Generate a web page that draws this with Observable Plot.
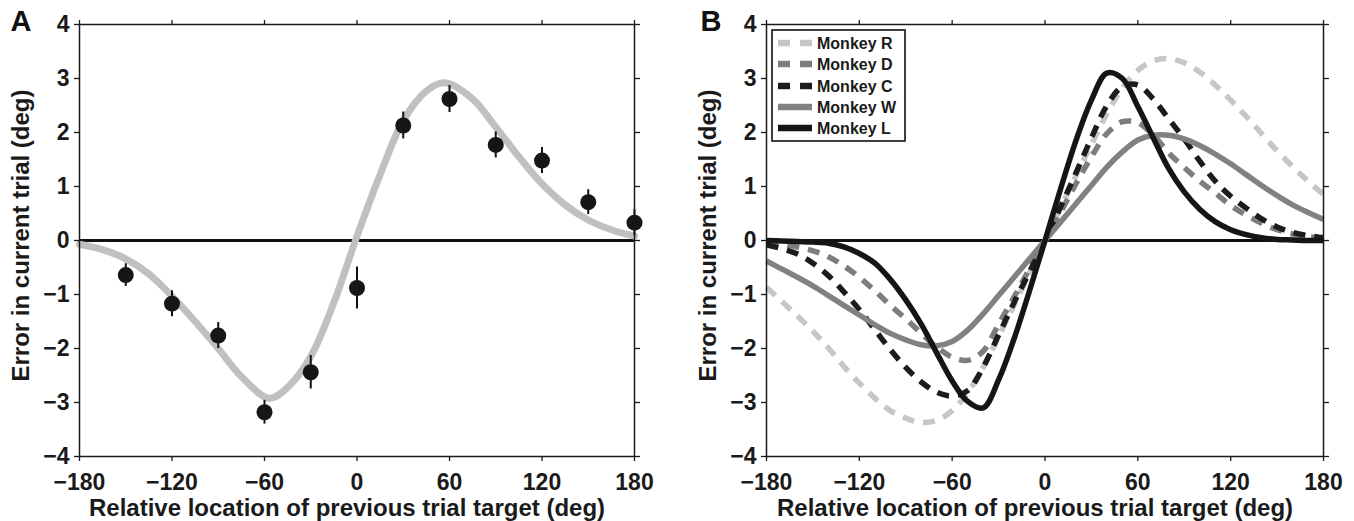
<!DOCTYPE html>
<html><head><meta charset="utf-8">
<script src="https://cdn.jsdelivr.net/npm/d3@7"></script>
<script src="https://cdn.jsdelivr.net/npm/@observablehq/plot@0.6"></script>
<style>
html,body{margin:0;padding:0;background:#fff;}
#wrap{position:relative;width:1354px;height:521px;display:flex;overflow:hidden;}
#wrap svg{display:block;}
#legend{position:absolute;left:771px;top:29px;}
</style></head><body><div id="wrap"></div>
<script>
// ---------- tick labels / titles ----------
const xTicks = [-180, -120, -60, 0, 60, 120, 180];
const yTicks = [-4, -3, -2, -1, 0, 1, 2, 3, 4];
const xTitle = "Relative location of previous trial target (deg)";
const yTitle = "Error in current trial (deg)";
const panelLetters = ["A", "B"];

// ---------- Panel A: binned data (mean ± s.e.) ----------
const aX   = [-150, -120, -90, -60, -30, 0, 30, 60, 90, 120, 150, 180];
const aY   = [-0.64, -1.17, -1.76, -3.18, -2.44, -0.88, 2.13, 2.62, 1.77, 1.48, 0.71, 0.33];
const aErr = [0.21, 0.24, 0.24, 0.22, 0.31, 0.39, 0.25, 0.25, 0.24, 0.24, 0.23, 0.24];

// ---------- Panel A: fitted curve ----------
const fitX = [-180, -165, -150, -135, -120, -105, -90, -75, -57, -45, -30, -15, 0, 15, 30, 45, 57, 75, 90, 105, 120, 135, 150, 165, 180];
const fitY = [-0.07, -0.17, -0.34, -0.62, -1.03, -1.5, -2.0, -2.52, -2.92, -2.72, -2.15, -1.15, 0.08, 1.22, 2.22, 2.77, 2.92, 2.62, 2.1, 1.55, 1.05, 0.66, 0.38, 0.2, 0.08];

// ---------- Panel B: per-monkey fitted curves ----------
const bX = [-180, -170, -160, -150, -140, -130, -120, -110, -100, -90, -80, -70, -60, -50, -40, -30, -20, -10, 0,
            10, 20, 30, 40, 50, 60, 70, 80, 90, 100, 110, 120, 130, 140, 150, 160, 170, 180];
const monkeys = ["Monkey R", "Monkey D", "Monkey C", "Monkey W", "Monkey L"];
const monkeyR = [-0.87, -1.13, -1.40, -1.68, -1.99, -2.33, -2.64, -2.92, -3.15, -3.29, -3.37, -3.33, -3.15, -2.82, -2.35, -1.78, -1.2, -0.6, 0,
                 0.6, 1.2, 1.78, 2.35, 2.82, 3.15, 3.33, 3.37, 3.29, 3.12, 2.88, 2.6, 2.3, 1.98, 1.66, 1.37, 1.1, 0.85];
const monkeyD = [-0.05, -0.07, -0.12, -0.19, -0.3, -0.47, -0.68, -0.93, -1.2, -1.45, -1.72, -1.97, -2.16, -2.22, -2.05, -1.55, -1.05, -0.52, 0,
                 0.52, 1.05, 1.55, 1.98, 2.2, 2.18, 1.95, 1.62, 1.35, 1.1, 0.88, 0.65, 0.47, 0.32, 0.2, 0.12, 0.07, 0.04];
const monkeyC = [-0.08, -0.15, -0.25, -0.42, -0.65, -0.95, -1.28, -1.65, -2.02, -2.35, -2.62, -2.81, -2.88, -2.78, -2.35, -1.75, -1.15, -0.58, 0,
                 0.62, 1.25, 1.9, 2.5, 2.85, 2.88, 2.62, 2.25, 1.88, 1.47, 1.1, 0.82, 0.6, 0.4, 0.25, 0.15, 0.09, 0.05];
const monkeyW = [-0.38, -0.53, -0.68, -0.84, -1.02, -1.2, -1.38, -1.56, -1.72, -1.84, -1.93, -1.95, -1.87, -1.66, -1.36, -1.02, -0.68, -0.34, 0,
                 0.34, 0.68, 1.02, 1.36, 1.64, 1.86, 1.95, 1.95, 1.88, 1.76, 1.6, 1.42, 1.22, 1.02, 0.83, 0.66, 0.52, 0.39];
const monkeyL = [0.0, -0.01, -0.02, -0.03, -0.05, -0.12, -0.24, -0.42, -0.72, -1.1, -1.55, -2.08, -2.6, -2.98, -3.1, -2.58, -1.82, -0.93, 0,
                 0.95, 1.85, 2.6, 3.1, 3.0, 2.48, 1.9, 1.33, 0.9, 0.58, 0.35, 0.2, 0.11, 0.05, 0.02, 0.01, 0.0, 0.0];

// ---------- styles ----------
const monkeyColor = ["#c6c6c6", "#7d7d7d", "#1c1c1c", "#818181", "#151515"];
const monkeyDash  = ["12,9", "12,9", "12,9", null, null];
const font = "'Liberation Sans', Arial, Helvetica, sans-serif";

// ---------- build tables ----------
const aPoints = aX.map((x, i) => ({x, y: aY[i], lo: aY[i] - aErr[i], hi: aY[i] + aErr[i]}));
const aFit = fitX.map((x, i) => ({x, y: fitY[i]}));
const bSeries = [monkeyR, monkeyD, monkeyC, monkeyW, monkeyL].map((vals, k) =>
  bX.map((x, i) => ({x, y: vals[i], m: monkeys[k]})));

function panel(letter, ml, mr, marks, letterDx) {
  return Plot.plot({
    width: 677, height: 521,
    marginLeft: ml, marginRight: mr, marginTop: 24, marginBottom: 65,
    x: {domain: [-180, 180]},
    y: {domain: [-4, 4]},
    style: {fontFamily: font, fontSize: "23px", fontWeight: "bold", color: "#1a1a1a", background: "#fff", overflow: "visible"},
    marks: [
      Plot.ruleY([0], {stroke: "#111", strokeWidth: 3}),
      ...marks,
      Plot.frame({stroke: "#1a1a1a", strokeWidth: 1.5}),
      Plot.axisX({anchor: "bottom", ticks: xTicks, tickSize: 5, tickPadding: 12, label: null, strokeWidth: 1.3}),
      Plot.axisX({anchor: "top", ticks: xTicks, tickSize: 5, tickFormat: () => "", label: null, strokeWidth: 1.3}),
      Plot.axisY({anchor: "left", ticks: yTicks, tickSize: 5, tickPadding: 5, label: null, strokeWidth: 1.3}),
      Plot.axisY({anchor: "right", ticks: yTicks, tickSize: 5, tickFormat: () => "", label: null, strokeWidth: 1.3}),
      Plot.text([xTitle], {frameAnchor: "bottom", textAnchor: "middle", lineAnchor: "top", dy: 42, dx: -10, fontSize: 24, fill: "#1a1a1a"}),
      Plot.text([yTitle], {frameAnchor: "left", textAnchor: "middle", rotate: -90, lineAnchor: "top", dx: -68, dy: -5, fontSize: 24, fill: "#1a1a1a"}),
      Plot.text([letter], {frameAnchor: "top-left", textAnchor: "start", lineAnchor: "top", dx: letterDx, dy: -14, fontSize: 29, fill: "#111"})
    ]
  });
}

const plotA = panel(panelLetters[0], 79, 43, [
  Plot.line(aFit, {x: "x", y: "y", curve: "catmull-rom", stroke: "#c0c0c0", strokeWidth: 7}),
  Plot.ruleX(aPoints, {x: "x", y1: "lo", y2: "hi", stroke: "#111", strokeWidth: 2}),
  Plot.dot(aPoints, {x: "x", y: "y", r: 8, fill: "#161616", stroke: "none"})
], -69);

const plotB = panel(panelLetters[1], 89, 31, bSeries.map((s, k) =>
  Plot.line(s, {x: "x", y: "y", curve: "catmull-rom", stroke: monkeyColor[k], strokeWidth: 5.5,
    strokeDasharray: monkeyDash[k] || undefined, strokeLinecap: "butt"})
), -66);

const wrap = document.getElementById("wrap");
wrap.appendChild(plotA);
wrap.appendChild(plotB);

// ---------- legend (inside panel B) ----------
const lg = d3.create("svg").attr("id", "legend").attr("width", 140).attr("height", 116)
  .style("font-family", font).style("font-weight", "bold");
lg.append("rect").attr("x", 1).attr("y", 1).attr("width", 133).attr("height", 111)
  .attr("fill", "#fff").attr("stroke", "#111").attr("stroke-width", 1.6);
const rowY = [14, 35, 57, 78, 99];
monkeys.forEach((name, k) => {
  lg.append("line").attr("x1", 7).attr("x2", 41).attr("y1", rowY[k]).attr("y2", rowY[k])
    .attr("stroke", monkeyColor[k]).attr("stroke-width", 6.5)
    .attr("stroke-dasharray", monkeyDash[k] ? "12,10" : null);
  lg.append("text").attr("x", 46).attr("y", rowY[k]).attr("dy", "0.36em")
    .attr("font-size", 16).attr("fill", "#1a1a1a").text(name);
});
wrap.appendChild(lg.node());
</script></body></html>
